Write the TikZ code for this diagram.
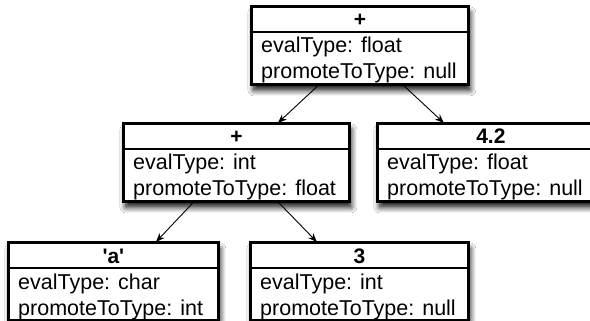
\documentclass[tikz,border=0pt]{standalone}
\usepackage{fontspec}
\setmainfont{Liberation Sans}
\usetikzlibrary{arrows.meta,shadows.blur}
\tikzset{
  umlbox/.style={draw=black, line width=1.8pt, fill=white, inner sep=0pt, anchor=north west,
    minimum height=77pt,
    blur shadow={shadow xshift=2pt, shadow yshift=-6pt, shadow blur radius=6pt, shadow opacity=100, shadow blur steps=8}},
  divider/.style={line width=1.8pt},
  boxtitle/.style={anchor=base, inner sep=0pt, font=\fontsize{21}{24}\selectfont\bfseries},
  attr/.style={anchor=base west, inner sep=0pt, font=\fontsize{21.5}{24}\selectfont},
  conn/.style={line width=0.9pt, -{Stealth[length=9pt,width=7pt]}},
}
\newcommand\umlnode[7]{%
  \node[umlbox, minimum width=#4pt] (#1) at (#2,#3) {};
  \draw[divider] ([yshift=-26pt]#1.north west) -- ([yshift=-26pt]#1.north east);
  \node[boxtitle] (#1-t) at ([yshift=-21pt]#1.north) {#5};
  \begin{scope}
    \clip (#1.south west) rectangle (#1.north east);
    \node[attr] (#1-a) at ([xshift=10pt,yshift=-47pt]#1.north west) {#6};
    \node[attr] (#1-b) at ([xshift=10pt,yshift=-73pt]#1.north west) {#7};
  \end{scope}
  \draw[line width=1.8pt] (#1.south west) rectangle (#1.north east);
}
\begin{document}
\begin{tikzpicture}[x=1pt,y=-1pt]
  \clip (0,0) rectangle (590,321);
  \fill[white] (0,0) rectangle (590,321);
  \umlnode{top}{251}{6}{216}{+}{evalType: float}{promoteToType: null}
  \umlnode{mid}{123}{123}{225}{+}{evalType: int}{promoteToType: float}
  \umlnode{four}{377}{123}{226}{4.2}{evalType: float}{promoteToType: null}
  \umlnode{cha}{8}{242}{209}{\textquotesingle a\textquotesingle}{evalType: char}{promoteToType: int}
  \umlnode{three}{250}{242}{217}{3}{evalType: int}{promoteToType: null}
  \draw[conn] ([xshift=-41pt]top.south) -- ([xshift=41.5pt]mid.north);
  \draw[conn] ([xshift=43pt]top.south) -- ([xshift=-47pt]four.north);
  \draw[conn] ([xshift=-42.5pt]mid.south) -- ([xshift=42.5pt]cha.north);
  \draw[conn] ([xshift=41.5pt]mid.south) -- ([xshift=-42.5pt]three.north);
\end{tikzpicture}
\end{document}
